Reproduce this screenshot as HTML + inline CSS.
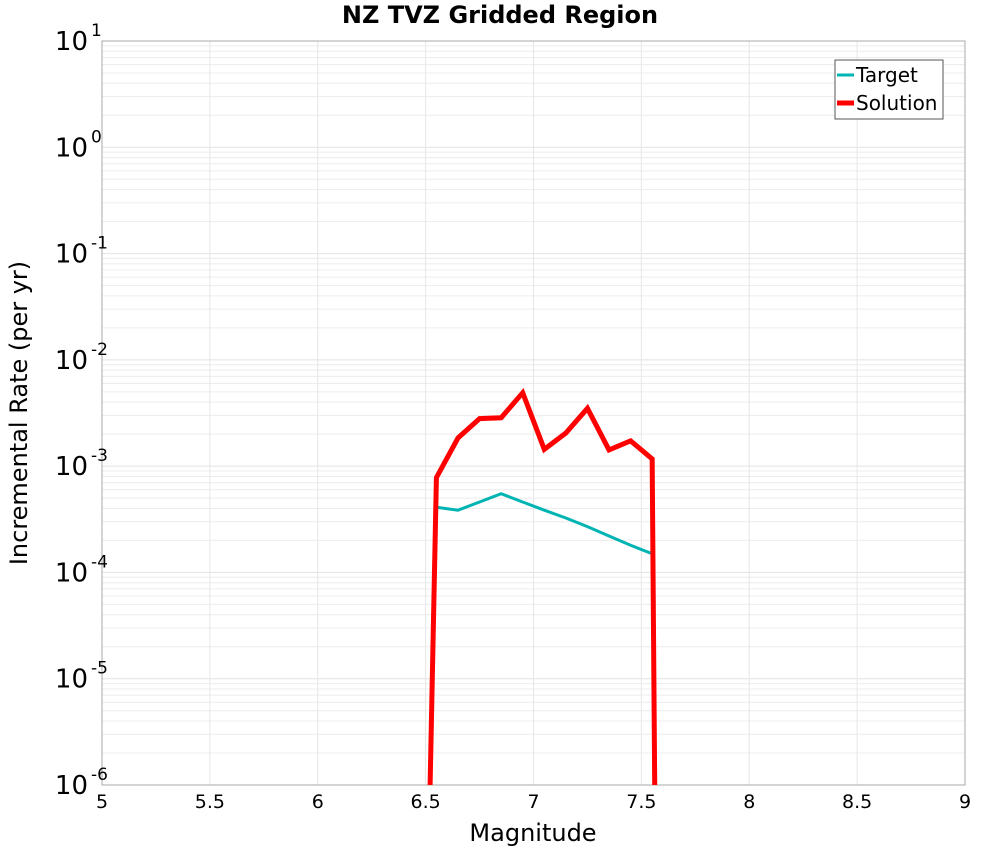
<!DOCTYPE html>
<html><head><meta charset="utf-8"><style>
html,body{margin:0;padding:0;background:#fff;overflow:hidden;width:1000px;height:850px;}
svg{display:block;}
svg text{font-family:"DejaVu Sans","Liberation Sans",sans-serif;}
</style></head><body>
<svg id="chart" width="1000" height="850" xmlns="http://www.w3.org/2000/svg">
<text x="500" y="23" text-anchor="middle" font-size="24" font-weight="bold">NZ TVZ Gridded Region</text>
<g id="grid"></g>
<rect x="102" y="41" width="863" height="744" fill="none" stroke="#aaa" stroke-width="1"/>
<g id="axes"></g>
<g id="series"></g>
<text x="533" y="841" text-anchor="middle" font-size="24">Magnitude</text>
<text transform="translate(27,413) rotate(-90)" text-anchor="middle" font-size="24">Incremental Rate (per yr)</text>
<g>
<rect x="835" y="60" width="108" height="59" fill="#fff" stroke="#555" stroke-width="1"/>
<line x1="837" y1="75" x2="854" y2="75" stroke="#00b4b4" stroke-width="3"/>
<text x="856" y="82" font-size="20">Target</text>
<line x1="837" y1="103" x2="854" y2="103" stroke="#ff0000" stroke-width="5"/>
<text x="856" y="110" font-size="20">Solution</text>
</g>
</svg>
<script>
const xTicks=[5,5.5,6,6.5,7,7.5,8,8.5,9];
const yExps=[1,0,-1,-2,-3,-4,-5,-6];
const targetMags=[6.55,6.65,6.75,6.85,6.95,7.05,7.15,7.25,7.35,7.45,7.55];
const targetRates=[4.1e-4,3.85e-4,4.6e-4,5.5e-4,4.6e-4,3.85e-4,3.25e-4,2.7e-4,2.2e-4,1.8e-4,1.5e-4];
const solutionMags=[6.45,6.55,6.65,6.75,6.85,6.95,7.05,7.15,7.25,7.35,7.45,7.55,7.65];
const solutionRates=[1e-13,7.8e-4,1.84e-3,2.8e-3,2.85e-3,4.9e-3,1.44e-3,2.05e-3,3.5e-3,1.42e-3,1.73e-3,1.17e-3,1e-29];
const L=102,R=965,T=41,B=785;
const xs=v=>L+(v-5)/(9-5)*(R-L);
const ys=v=>T+(1-Math.log10(v))/7*(B-T);
const NS="http://www.w3.org/2000/svg";
function mk(tag,attrs,parent){const e=document.createElementNS(NS,tag);for(const k in attrs)e.setAttribute(k,attrs[k]);parent.appendChild(e);return e;}
const grid=document.getElementById('grid'),axes=document.getElementById('axes'),series=document.getElementById('series');
for(let e=-6;e<1;e++)for(let m=1;m<10;m++){const y=ys(m*Math.pow(10,e));
 const l=mk('line',{x1:L,x2:R,y1:y,y2:y,stroke:m===1?'#e2e2e2':'#ececec','stroke-width':1},grid);
 
 }
xTicks.forEach(v=>{const x=xs(v);
 const l=mk('line',{x1:x,x2:x,y1:T,y2:B,stroke:'#e6e6e6','stroke-width':1},grid);
 
 
 const t=mk('text',{x:x,y:808,'text-anchor':'middle','font-size':19},axes);
 t.textContent=String(v);
 
 });
yExps.forEach(e=>{const y=ys(Math.pow(10,e));
 const t=mk('text',{x:88,y:y+9,'text-anchor':'end','font-size':26},axes);
 t.textContent='10';
 
 
 const s=mk('text',{x:91,y:y-5,'text-anchor':'start','font-size':17},axes);
 s.textContent=String(e);
 
 });
const clip=mk('clipPath',{id:'pc'},series);mk('rect',{x:L,y:T,width:R-L,height:B-T},clip);
const tp=mk('polyline',{points:targetMags.map((m,i)=>xs(m)+','+ys(targetRates[i])).join(' '),fill:'none',stroke:'#00b4b4','stroke-width':3,'clip-path':'url(#pc)'},series);


const sp=mk('polyline',{points:solutionMags.map((m,i)=>xs(m)+','+ys(solutionRates[i])).join(' '),fill:'none',stroke:'#ff0000','stroke-width':5,'stroke-linejoin':'miter','clip-path':'url(#pc)'},series);


</script>
</body></html>
